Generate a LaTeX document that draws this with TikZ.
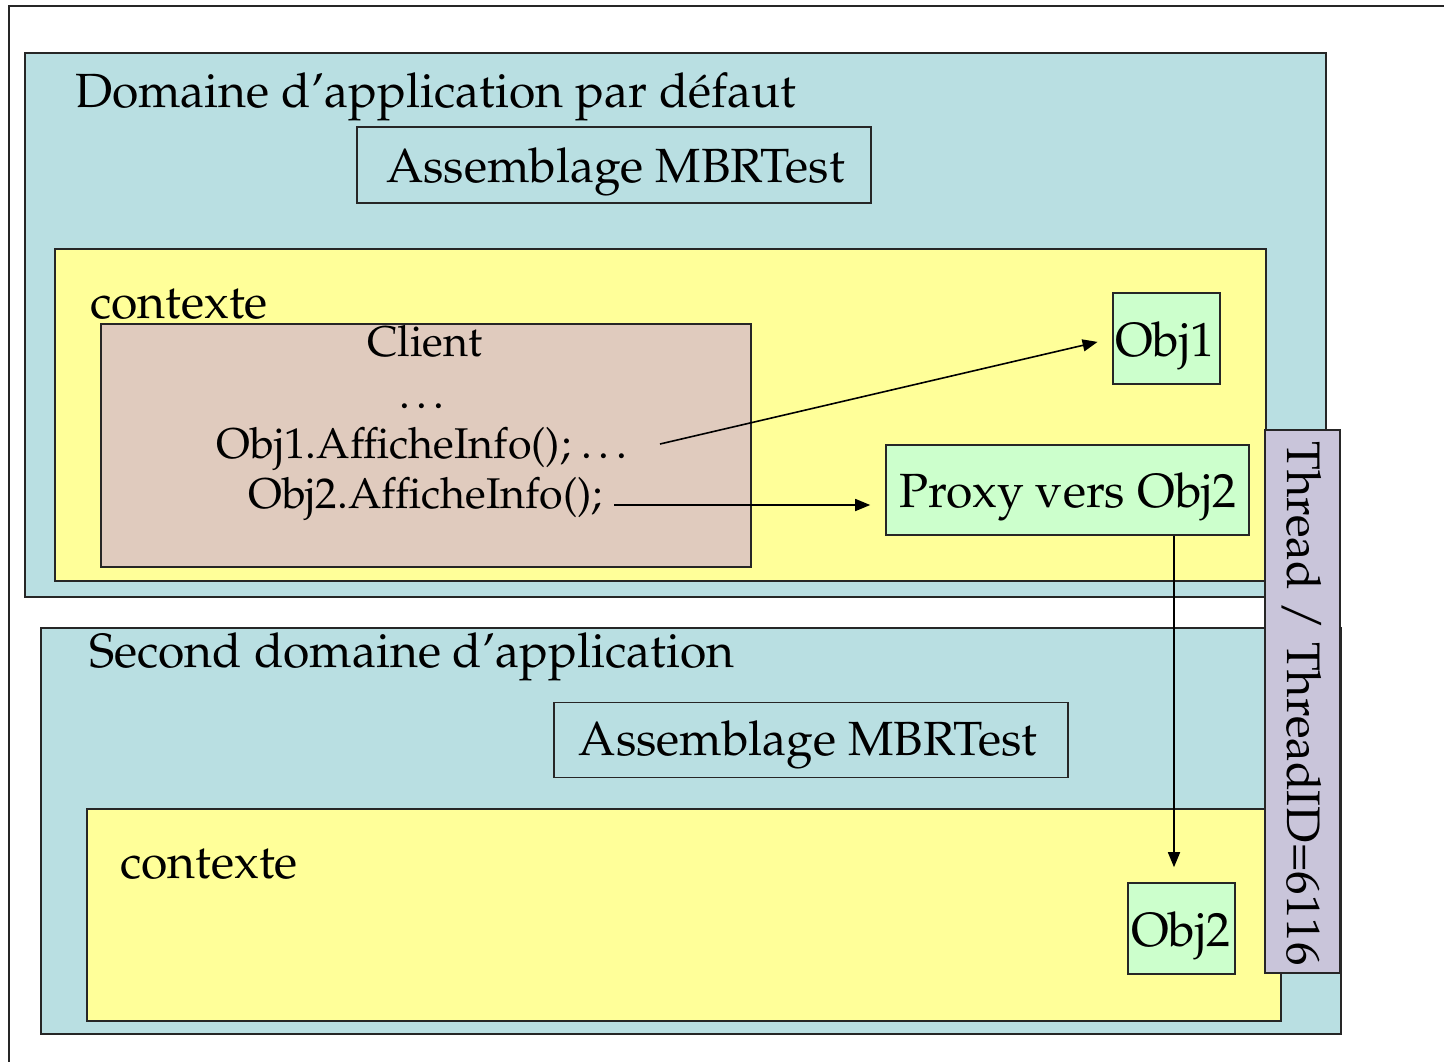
\documentclass[tikz,border=0pt]{standalone}
\usepackage[T1]{fontenc}
\usepackage{mathpazo}
\usetikzlibrary{arrows.meta}
\definecolor{domblue}{RGB}{185,223,226}
\definecolor{ctxyellow}{RGB}{255,255,153}
\definecolor{clienttan}{RGB}{224,203,190}
\definecolor{objgreen}{RGB}{204,255,204}
\definecolor{threadgray}{RGB}{201,197,218}
\tikzset{
  region/.style={draw=black!85, line width=1.6pt, anchor=north west, inner sep=0pt},
  appdomain/.style={region, fill=domblue},
  ctx/.style={region, fill=ctxyellow},
  clientarea/.style={region, fill=clienttan},
  objbox/.style={draw=black!85, line width=1.6pt, fill=objgreen, inner sep=0pt},
  asmbox/.style={draw=black!85, line width=1.6pt, fill=domblue, inner sep=0pt},
  bigtext/.style={font=\fontsize{48}{58}\selectfont},
  midtext/.style={font=\fontsize{43}{52}\selectfont},
  threadtext/.style={font=\fontsize{47}{56}\selectfont},
  title/.style={inner sep=0pt, anchor=base west},
  centred/.style={inner sep=0pt, anchor=base},
  callarrow/.style={-{Triangle[length=15pt,width=12pt]}, line width=1.6pt, shorten >=15pt}
}
\begin{document}
\begin{tikzpicture}[x=1pt, y=-1pt]
\useasboundingbox (0,0) rectangle (1444,1061);
\clip (0,0) rectangle (1444,1061);
% outer frame, running past the page edge on the right and bottom
\draw[line width=1.6pt, black!85] (9,6) rectangle (1480,1100);

% default application domain
\node[appdomain, minimum width=1301pt, minimum height=544pt] (dom1) at (24,52) {};
\node[title, bigtext] (dom1t) at (75,107) {Domaine d'application par d\'efaut};
\node[asmbox, minimum width=514pt, minimum height=76pt] (asm1) at (614,165) {};
\node[centred, bigtext] (asm1t) at (615.5,182) {Assemblage MBRTest};
\node[ctx, minimum width=1211pt, minimum height=332pt] (ctx1) at (54,248) {};
\node[title, bigtext] (ctx1t) at (90,318) {contexte};
\node[clientarea, minimum width=650pt, minimum height=243pt] (cli) at (100,323) {};
\node[centred, midtext] (cl1) at (425,356) {Client};
\node[centred, midtext] (cl2) at (425,408) {\ldots};
\node[centred, midtext] (cl3) at (425,458) {Obj1.AfficheInfo(); \ldots};
\node[centred, midtext] (cl4) at (425.5,508) {Obj2.AfficheInfo();};
\node[objbox, minimum width=107pt, minimum height=91pt] (obj1) at (1166.5,338.5) {};
\node[centred, bigtext] (obj1t) at (1165,356) {Obj1};
\node[objbox, minimum width=363pt, minimum height=90pt] (proxy) at (1067.5,490) {};
\node[centred, bigtext] (proxyt) at (1068,507) {Proxy vers Obj2};

% second application domain
\node[appdomain, minimum width=1300pt, minimum height=406pt] (dom2) at (40,627) {};
\node[title, bigtext] (dom2t) at (89,667) {Second domaine d'application};
\node[asmbox, minimum width=514pt, minimum height=75pt] (asm2) at (811,740) {};
\node[centred, bigtext] (asm2t) at (808,755) {Assemblage MBRTest};
\node[ctx, minimum width=1194pt, minimum height=212pt] (ctx2) at (86,808) {};
\node[title, bigtext] (ctx2t) at (120,878) {contexte};
\node[objbox, minimum width=107pt, minimum height=91pt] (obj2) at (1181.5,928.5) {};
\node[centred, bigtext] (obj2t) at (1181,946) {Obj2};

% thread band across both domains
\node[draw=black!85, line width=1.6pt, fill=threadgray, minimum width=75pt, minimum height=543pt, inner sep=0pt] (thr) at (1302.5,701.5) {};
\node[centred, threadtext, rotate=-90] (thrt) at (1287,703.5) {Thread / ThreadID=6116};

% calls
\coordinate (s1) at (660,444);
\coordinate (s2) at (614,505);
\coordinate (vx) at (1174,0);
\draw[callarrow] (s1) -- (obj1.west);
\draw[callarrow] (s2) -- (s2 -| proxy.west);
\draw[callarrow] (vx |- proxy.south) -- (vx |- obj2.north);
\end{tikzpicture}
\end{document}
